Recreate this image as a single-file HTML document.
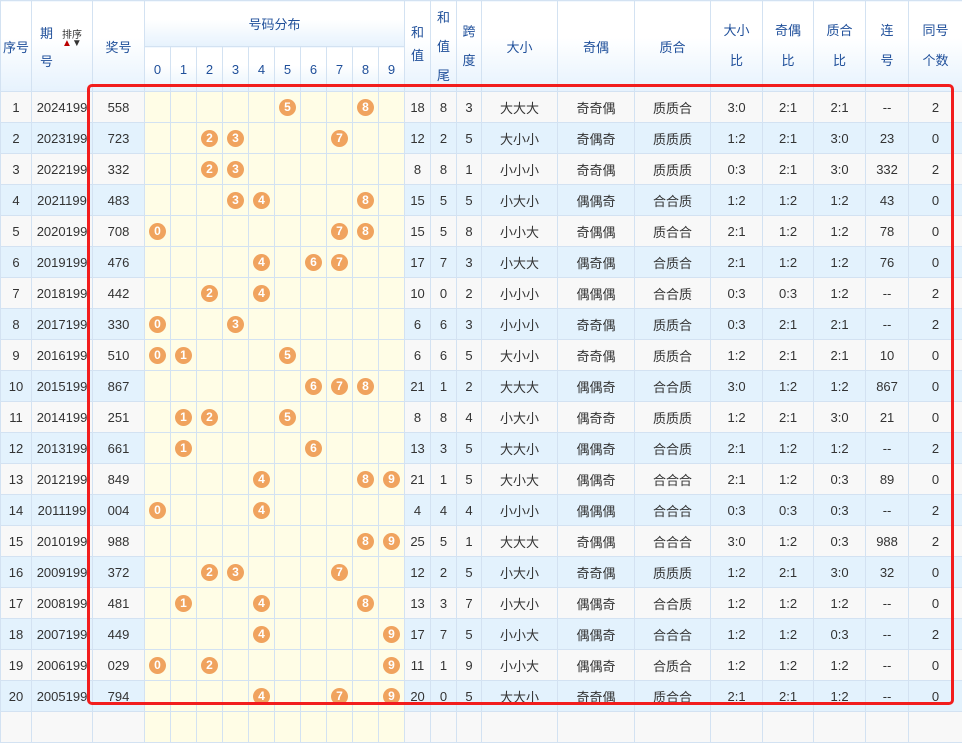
<!DOCTYPE html>
<html><head><meta charset="utf-8"><style>
body{margin:0;width:962px;height:715px;overflow:hidden;background:#fff;position:relative;font-family:"Liberation Sans","Noto Sans CJK SC",sans-serif;}
table{border-collapse:collapse;table-layout:fixed;width:962px;position:absolute;left:0;top:0;font-size:13px;color:#333;}
td,th{border:1px solid #d3e2f2;text-align:center;padding:0;overflow:hidden;white-space:nowrap;}
th{font-weight:normal;color:#1f4f9a;background:linear-gradient(#fff 0%,#fff 40%,#e6f2fd 100%);}
tr.h1{height:46px}tr.h2{height:45px}
tr.d{height:31px}
tr.o td{background:#f8f8f8}
tr.e td{background:#e3f2fd}
tr.d td.y{background:#fffde6}
.b{display:inline-block;width:17px;height:17px;border-radius:50%;background:#f0a35e;color:#fff;font-weight:bold;font-size:12px;line-height:17px;vertical-align:middle}
.box{position:absolute;left:87px;top:84px;width:861px;height:615px;border:3px solid #f21d1d;border-radius:5px}
.l{line-height:30px}
</style></head><body>
<table>
<colgroup><col style="width:31px"><col style="width:61px"><col style="width:52px"><col style="width:26px"><col style="width:26px"><col style="width:26px"><col style="width:26px"><col style="width:26px"><col style="width:26px"><col style="width:26px"><col style="width:26px"><col style="width:26px"><col style="width:26px"><col style="width:26px"><col style="width:26px"><col style="width:25px"><col style="width:76px"><col style="width:77px"><col style="width:76px"><col style="width:52px"><col style="width:51px"><col style="width:52px"><col style="width:43px"><col style="width:54px"></colgroup>
<tr class="h1"><th rowspan="2">序号</th><th rowspan="2"><div style="position:relative;height:90px"><span style="position:absolute;left:8px;top:22px">期</span><span style="position:absolute;left:8px;top:50px">号</span><span style="position:absolute;left:30px;top:25px;font-size:10px;color:#333">排序</span><span style="position:absolute;left:30px;top:37px;font-size:10px"><span style="color:#b00">▲</span><span style="color:#333">▼</span></span></div></th><th rowspan="2">奖号</th><th colspan="10">号码分布</th><th rowspan="2">和<br><span class="l">值</span></th><th rowspan="2" style="line-height:29px">和<br>值<br>尾</th><th rowspan="2" style="line-height:29px">跨<br>度</th><th rowspan="2">大小</th><th rowspan="2">奇偶</th><th rowspan="2">质合</th><th rowspan="2" style="line-height:30px">大小<br>比</th><th rowspan="2" style="line-height:30px">奇偶<br>比</th><th rowspan="2" style="line-height:30px">质合<br>比</th><th rowspan="2" style="line-height:30px">连<br>号</th><th rowspan="2" style="line-height:30px">同号<br>个数</th></tr>
<tr class="h2"><th>0</th><th>1</th><th>2</th><th>3</th><th>4</th><th>5</th><th>6</th><th>7</th><th>8</th><th>9</th></tr>
<tr class="d o"><td>1</td><td>2024199</td><td>558</td><td class="y"></td><td class="y"></td><td class="y"></td><td class="y"></td><td class="y"></td><td class="y"><span class="b">5</span></td><td class="y"></td><td class="y"></td><td class="y"><span class="b">8</span></td><td class="y"></td><td>18</td><td>8</td><td>3</td><td>大大大</td><td>奇奇偶</td><td>质质合</td><td>3:0</td><td>2:1</td><td>2:1</td><td>--</td><td>2</td></tr>
<tr class="d e"><td>2</td><td>2023199</td><td>723</td><td class="y"></td><td class="y"></td><td class="y"><span class="b">2</span></td><td class="y"><span class="b">3</span></td><td class="y"></td><td class="y"></td><td class="y"></td><td class="y"><span class="b">7</span></td><td class="y"></td><td class="y"></td><td>12</td><td>2</td><td>5</td><td>大小小</td><td>奇偶奇</td><td>质质质</td><td>1:2</td><td>2:1</td><td>3:0</td><td>23</td><td>0</td></tr>
<tr class="d o"><td>3</td><td>2022199</td><td>332</td><td class="y"></td><td class="y"></td><td class="y"><span class="b">2</span></td><td class="y"><span class="b">3</span></td><td class="y"></td><td class="y"></td><td class="y"></td><td class="y"></td><td class="y"></td><td class="y"></td><td>8</td><td>8</td><td>1</td><td>小小小</td><td>奇奇偶</td><td>质质质</td><td>0:3</td><td>2:1</td><td>3:0</td><td>332</td><td>2</td></tr>
<tr class="d e"><td>4</td><td>2021199</td><td>483</td><td class="y"></td><td class="y"></td><td class="y"></td><td class="y"><span class="b">3</span></td><td class="y"><span class="b">4</span></td><td class="y"></td><td class="y"></td><td class="y"></td><td class="y"><span class="b">8</span></td><td class="y"></td><td>15</td><td>5</td><td>5</td><td>小大小</td><td>偶偶奇</td><td>合合质</td><td>1:2</td><td>1:2</td><td>1:2</td><td>43</td><td>0</td></tr>
<tr class="d o"><td>5</td><td>2020199</td><td>708</td><td class="y"><span class="b">0</span></td><td class="y"></td><td class="y"></td><td class="y"></td><td class="y"></td><td class="y"></td><td class="y"></td><td class="y"><span class="b">7</span></td><td class="y"><span class="b">8</span></td><td class="y"></td><td>15</td><td>5</td><td>8</td><td>小小大</td><td>奇偶偶</td><td>质合合</td><td>2:1</td><td>1:2</td><td>1:2</td><td>78</td><td>0</td></tr>
<tr class="d e"><td>6</td><td>2019199</td><td>476</td><td class="y"></td><td class="y"></td><td class="y"></td><td class="y"></td><td class="y"><span class="b">4</span></td><td class="y"></td><td class="y"><span class="b">6</span></td><td class="y"><span class="b">7</span></td><td class="y"></td><td class="y"></td><td>17</td><td>7</td><td>3</td><td>小大大</td><td>偶奇偶</td><td>合质合</td><td>2:1</td><td>1:2</td><td>1:2</td><td>76</td><td>0</td></tr>
<tr class="d o"><td>7</td><td>2018199</td><td>442</td><td class="y"></td><td class="y"></td><td class="y"><span class="b">2</span></td><td class="y"></td><td class="y"><span class="b">4</span></td><td class="y"></td><td class="y"></td><td class="y"></td><td class="y"></td><td class="y"></td><td>10</td><td>0</td><td>2</td><td>小小小</td><td>偶偶偶</td><td>合合质</td><td>0:3</td><td>0:3</td><td>1:2</td><td>--</td><td>2</td></tr>
<tr class="d e"><td>8</td><td>2017199</td><td>330</td><td class="y"><span class="b">0</span></td><td class="y"></td><td class="y"></td><td class="y"><span class="b">3</span></td><td class="y"></td><td class="y"></td><td class="y"></td><td class="y"></td><td class="y"></td><td class="y"></td><td>6</td><td>6</td><td>3</td><td>小小小</td><td>奇奇偶</td><td>质质合</td><td>0:3</td><td>2:1</td><td>2:1</td><td>--</td><td>2</td></tr>
<tr class="d o"><td>9</td><td>2016199</td><td>510</td><td class="y"><span class="b">0</span></td><td class="y"><span class="b">1</span></td><td class="y"></td><td class="y"></td><td class="y"></td><td class="y"><span class="b">5</span></td><td class="y"></td><td class="y"></td><td class="y"></td><td class="y"></td><td>6</td><td>6</td><td>5</td><td>大小小</td><td>奇奇偶</td><td>质质合</td><td>1:2</td><td>2:1</td><td>2:1</td><td>10</td><td>0</td></tr>
<tr class="d e"><td>10</td><td>2015199</td><td>867</td><td class="y"></td><td class="y"></td><td class="y"></td><td class="y"></td><td class="y"></td><td class="y"></td><td class="y"><span class="b">6</span></td><td class="y"><span class="b">7</span></td><td class="y"><span class="b">8</span></td><td class="y"></td><td>21</td><td>1</td><td>2</td><td>大大大</td><td>偶偶奇</td><td>合合质</td><td>3:0</td><td>1:2</td><td>1:2</td><td>867</td><td>0</td></tr>
<tr class="d o"><td>11</td><td>2014199</td><td>251</td><td class="y"></td><td class="y"><span class="b">1</span></td><td class="y"><span class="b">2</span></td><td class="y"></td><td class="y"></td><td class="y"><span class="b">5</span></td><td class="y"></td><td class="y"></td><td class="y"></td><td class="y"></td><td>8</td><td>8</td><td>4</td><td>小大小</td><td>偶奇奇</td><td>质质质</td><td>1:2</td><td>2:1</td><td>3:0</td><td>21</td><td>0</td></tr>
<tr class="d e"><td>12</td><td>2013199</td><td>661</td><td class="y"></td><td class="y"><span class="b">1</span></td><td class="y"></td><td class="y"></td><td class="y"></td><td class="y"></td><td class="y"><span class="b">6</span></td><td class="y"></td><td class="y"></td><td class="y"></td><td>13</td><td>3</td><td>5</td><td>大大小</td><td>偶偶奇</td><td>合合质</td><td>2:1</td><td>1:2</td><td>1:2</td><td>--</td><td>2</td></tr>
<tr class="d o"><td>13</td><td>2012199</td><td>849</td><td class="y"></td><td class="y"></td><td class="y"></td><td class="y"></td><td class="y"><span class="b">4</span></td><td class="y"></td><td class="y"></td><td class="y"></td><td class="y"><span class="b">8</span></td><td class="y"><span class="b">9</span></td><td>21</td><td>1</td><td>5</td><td>大小大</td><td>偶偶奇</td><td>合合合</td><td>2:1</td><td>1:2</td><td>0:3</td><td>89</td><td>0</td></tr>
<tr class="d e"><td>14</td><td>2011199</td><td>004</td><td class="y"><span class="b">0</span></td><td class="y"></td><td class="y"></td><td class="y"></td><td class="y"><span class="b">4</span></td><td class="y"></td><td class="y"></td><td class="y"></td><td class="y"></td><td class="y"></td><td>4</td><td>4</td><td>4</td><td>小小小</td><td>偶偶偶</td><td>合合合</td><td>0:3</td><td>0:3</td><td>0:3</td><td>--</td><td>2</td></tr>
<tr class="d o"><td>15</td><td>2010199</td><td>988</td><td class="y"></td><td class="y"></td><td class="y"></td><td class="y"></td><td class="y"></td><td class="y"></td><td class="y"></td><td class="y"></td><td class="y"><span class="b">8</span></td><td class="y"><span class="b">9</span></td><td>25</td><td>5</td><td>1</td><td>大大大</td><td>奇偶偶</td><td>合合合</td><td>3:0</td><td>1:2</td><td>0:3</td><td>988</td><td>2</td></tr>
<tr class="d e"><td>16</td><td>2009199</td><td>372</td><td class="y"></td><td class="y"></td><td class="y"><span class="b">2</span></td><td class="y"><span class="b">3</span></td><td class="y"></td><td class="y"></td><td class="y"></td><td class="y"><span class="b">7</span></td><td class="y"></td><td class="y"></td><td>12</td><td>2</td><td>5</td><td>小大小</td><td>奇奇偶</td><td>质质质</td><td>1:2</td><td>2:1</td><td>3:0</td><td>32</td><td>0</td></tr>
<tr class="d o"><td>17</td><td>2008199</td><td>481</td><td class="y"></td><td class="y"><span class="b">1</span></td><td class="y"></td><td class="y"></td><td class="y"><span class="b">4</span></td><td class="y"></td><td class="y"></td><td class="y"></td><td class="y"><span class="b">8</span></td><td class="y"></td><td>13</td><td>3</td><td>7</td><td>小大小</td><td>偶偶奇</td><td>合合质</td><td>1:2</td><td>1:2</td><td>1:2</td><td>--</td><td>0</td></tr>
<tr class="d e"><td>18</td><td>2007199</td><td>449</td><td class="y"></td><td class="y"></td><td class="y"></td><td class="y"></td><td class="y"><span class="b">4</span></td><td class="y"></td><td class="y"></td><td class="y"></td><td class="y"></td><td class="y"><span class="b">9</span></td><td>17</td><td>7</td><td>5</td><td>小小大</td><td>偶偶奇</td><td>合合合</td><td>1:2</td><td>1:2</td><td>0:3</td><td>--</td><td>2</td></tr>
<tr class="d o"><td>19</td><td>2006199</td><td>029</td><td class="y"><span class="b">0</span></td><td class="y"></td><td class="y"><span class="b">2</span></td><td class="y"></td><td class="y"></td><td class="y"></td><td class="y"></td><td class="y"></td><td class="y"></td><td class="y"><span class="b">9</span></td><td>11</td><td>1</td><td>9</td><td>小小大</td><td>偶偶奇</td><td>合质合</td><td>1:2</td><td>1:2</td><td>1:2</td><td>--</td><td>0</td></tr>
<tr class="d e"><td>20</td><td>2005199</td><td>794</td><td class="y"></td><td class="y"></td><td class="y"></td><td class="y"></td><td class="y"><span class="b">4</span></td><td class="y"></td><td class="y"></td><td class="y"><span class="b">7</span></td><td class="y"></td><td class="y"><span class="b">9</span></td><td>20</td><td>0</td><td>5</td><td>大大小</td><td>奇奇偶</td><td>质合合</td><td>2:1</td><td>2:1</td><td>1:2</td><td>--</td><td>0</td></tr>
<tr class="d o"><td></td><td></td><td></td><td class="y"></td><td class="y"></td><td class="y"></td><td class="y"></td><td class="y"></td><td class="y"></td><td class="y"></td><td class="y"></td><td class="y"></td><td class="y"></td><td></td><td></td><td></td><td></td><td></td><td></td><td></td><td></td><td></td><td></td><td></td></tr>
</table>
<div class="box"></div>
</body></html>
